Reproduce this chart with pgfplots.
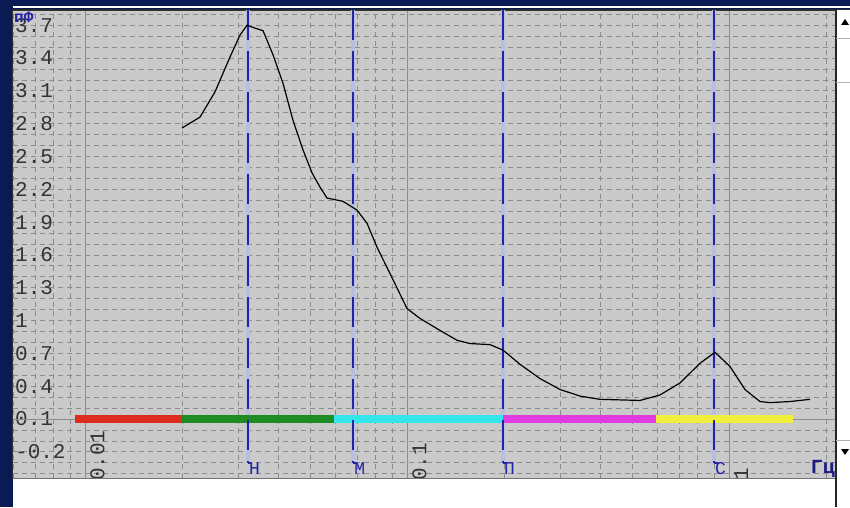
\documentclass[border=0pt]{standalone}
\usepackage{fontspec}
\setmainfont{Liberation Serif}
\newfontfamily\monof{Liberation Mono}
\usepackage{pgfplots}
\pgfplotsset{compat=1.18}

\definecolor{navybg}{RGB}{10,26,82}
\definecolor{plotbg}{RGB}{202,202,202}
\definecolor{gridc}{RGB}{140,140,140}
\definecolor{markblue}{RGB}{35,35,165}
\definecolor{halo}{RGB}{185,190,225}
\definecolor{barred}{RGB}{222,45,30}
\definecolor{bargreen}{RGB}{30,140,35}
\definecolor{barcyan}{RGB}{50,230,235}
\definecolor{barmag}{RGB}{225,60,225}
\definecolor{baryel}{RGB}{240,240,60}

\tikzset{
  bandline/.style={markblue, line width=1.8pt, dash pattern=on 30pt off 11pt},
  bandfoot/.style={markblue, line width=1.5pt},
  bandhalo/.style={halo, line width=4pt},
  bandlab/.style={anchor=north west, inner sep=0pt, xshift=1pt, yshift=1pt, text=markblue,
                  font=\monof\fontsize{18}{18}\selectfont},
  freqlab/.style={xshift=5pt, yshift=-3pt, rotate=90, anchor=north west, inner sep=0pt,
                  text=black!80, font=\monof\fontsize{21}{21}\selectfont},
}

\begin{document}
\begin{tikzpicture}[x=1pt,y=1pt]
\useasboundingbox (0,0) rectangle (850,507);
\fill[navybg] (0,0) rectangle (850,507);

\begin{axis}[
    at={(13pt,29pt)}, anchor=south west,
    scale only axis, width=822pt, height=468pt,
    xmode=log, xmin=0.005975, xmax=2.134,
    ymin=-0.439, ymax=3.839,
    axis background/.style={fill=plotbg},
    axis line style={black!80, line width=1pt},
    major tick length=0pt, minor tick length=0pt,
    xtick={0.01,0.1,1}, xticklabels={},
    minor xtick={0.006,0.007,0.008,0.009,0.02,0.03,0.04,0.05,0.06,0.07,0.08,0.09,
                 0.2,0.3,0.4,0.5,0.6,0.7,0.8,0.9,2},
    ytick={-0.2,0.1,0.4,0.7,1,1.3,1.6,1.9,2.2,2.5,2.8,3.1,3.4,3.7},
    yticklabels={-0.2,0.1,0.4,0.7,1,1.3,1.6,1.9,2.2,2.5,2.8,3.1,3.4,3.7},
    minor ytick={-0.4,-0.3,-0.1,0,0.2,0.3,0.5,0.6,0.8,0.9,1.1,1.2,1.4,1.5,
                 1.7,1.8,2,2.1,2.3,2.4,2.6,2.7,2.9,3,3.2,3.3,3.5,3.6,3.8},
    grid=both,
    major x grid style={gridc, line width=0.9pt, solid},
    minor x grid style={gridc, line width=0.8pt, dash pattern=on 5pt off 4pt},
    major y grid style={gridc, line width=0.8pt, dash pattern=on 5pt off 4pt},
    minor y grid style={gridc, line width=0.8pt, dash pattern=on 5pt off 4pt},
    yticklabel style={font=\monof\fontsize{21}{21}\selectfont, text=black!80,
                      anchor=west, inner sep=0pt, xshift=2pt},
]
% solid line at 0.1
\draw[gridc, line width=0.9pt] (axis cs:0.005975,0.1) -- (axis cs:2.134,0.1);

% halos of the band markers
\draw[bandhalo] (axis cs:0.03208,3.839) -- (axis cs:0.03208,-0.302);
\draw[bandhalo] (axis cs:0.0680,3.839) -- (axis cs:0.0680,-0.302);
\draw[bandhalo] (axis cs:0.1987,3.839) -- (axis cs:0.1987,-0.302);
\draw[bandhalo] (axis cs:0.898,3.839) -- (axis cs:0.898,-0.302);

% frequency bands
\addplot[barred,   line width=8pt, line cap=butt] coordinates {(0.00931,0.1) (0.0200,0.1)};
\addplot[bargreen, line width=8pt, line cap=butt] coordinates {(0.0200,0.1) (0.0593,0.1)};
\addplot[barcyan,  line width=8pt, line cap=butt] coordinates {(0.0593,0.1) (0.1987,0.1)};
\addplot[barmag,   line width=8pt, line cap=butt] coordinates {(0.1987,0.1) (0.5934,0.1)};
\addplot[baryel,   line width=8pt, line cap=butt] coordinates {(0.5934,0.1) (1.580,0.1)};

% band markers
\draw[bandline] (axis cs:0.03208,3.839) -- (axis cs:0.03208,-0.302);
\draw[bandfoot] (axis cs:0.03208,-0.302) -- ++(4pt,0pt);
\node[bandlab] at (axis cs:0.03208,-0.302) {Н};
\draw[bandline] (axis cs:0.0680,3.839) -- (axis cs:0.0680,-0.302);
\draw[bandfoot] (axis cs:0.0680,-0.302) -- ++(4pt,0pt);
\node[bandlab] at (axis cs:0.0680,-0.302) {М};
\draw[bandline] (axis cs:0.1987,3.839) -- (axis cs:0.1987,-0.302);
\draw[bandfoot] (axis cs:0.1987,-0.302) -- ++(4pt,0pt);
\node[bandlab] at (axis cs:0.1987,-0.302) {П};
\draw[bandline] (axis cs:0.898,3.839) -- (axis cs:0.898,-0.302);
\draw[bandfoot] (axis cs:0.898,-0.302) -- ++(4pt,0pt);
\node[bandlab] at (axis cs:0.898,-0.302) {С};

% spectrum
\addplot[black, line width=1.2pt] coordinates {
  (0.02001,2.76) (0.02276,2.86) (0.02533,3.09) (0.02821,3.41) (0.03030,3.61)
  (0.03185,3.70) (0.03398,3.67) (0.03571,3.65) (0.03836,3.43) (0.04119,3.17)
  (0.04426,2.83) (0.04754,2.56) (0.05070,2.35) (0.05369,2.22) (0.05645,2.12)
  (0.06328,2.09) (0.06995,2.01) (0.07512,1.89) (0.08070,1.67) (0.08855,1.43)
  (0.1000,1.11) (0.1097,1.02) (0.1266,0.91) (0.1430,0.82) (0.1569,0.79)
  (0.1811,0.78) (0.1987,0.73) (0.2244,0.60) (0.2588,0.47) (0.2987,0.37)
  (0.3445,0.31) (0.3975,0.28) (0.5293,0.27) (0.6107,0.32) (0.7045,0.43)
  (0.8127,0.61) (0.9048,0.71) (1.0072,0.58) (1.121,0.37) (1.248,0.26)
  (1.341,0.25) (1.547,0.26) (1.785,0.28)
};

% rotated frequency labels
\node[freqlab] at (axis cs:0.01,-0.439) {0.01};
\node[freqlab] at (axis cs:0.1,-0.439) {0.1};
\node[freqlab] at (axis cs:1,-0.439) {1};

% units
\node[anchor=north west, inner sep=0pt, xshift=1pt, yshift=-2pt, text=markblue,
      font=\monof\bfseries\fontsize{16}{16}\selectfont] at (axis cs:0.005975,3.839) {пФ};
\node[anchor=south east, inner sep=0pt, text=markblue!80!black,
      font=\monof\bfseries\fontsize{20}{20}\selectfont] at (axis cs:2.134,-0.439) {Гц};
\end{axis}

% window parts around the plot
\fill[white] (13,0) rectangle (850,29);
\fill[white] (836,29) rectangle (850,497);
\draw[black!55, line width=1pt] (13,29) -- (836,29);
\draw[black!85, line width=1.2pt] (836,0) -- (836,497);
\draw[black!85, line width=1pt] (13,497) -- (850,497);
\draw[white, line width=2pt] (13,500) -- (850,500);
\draw[black!30, line width=0.8pt] (836,469) -- (850,469) (836,425) -- (850,425) (836,67) -- (850,67);
\fill[black] (841,482) -- (849,482) -- (845,488) -- cycle;
\fill[black] (841,58) -- (849,58) -- (845,52) -- cycle;
\end{tikzpicture}
\end{document}
